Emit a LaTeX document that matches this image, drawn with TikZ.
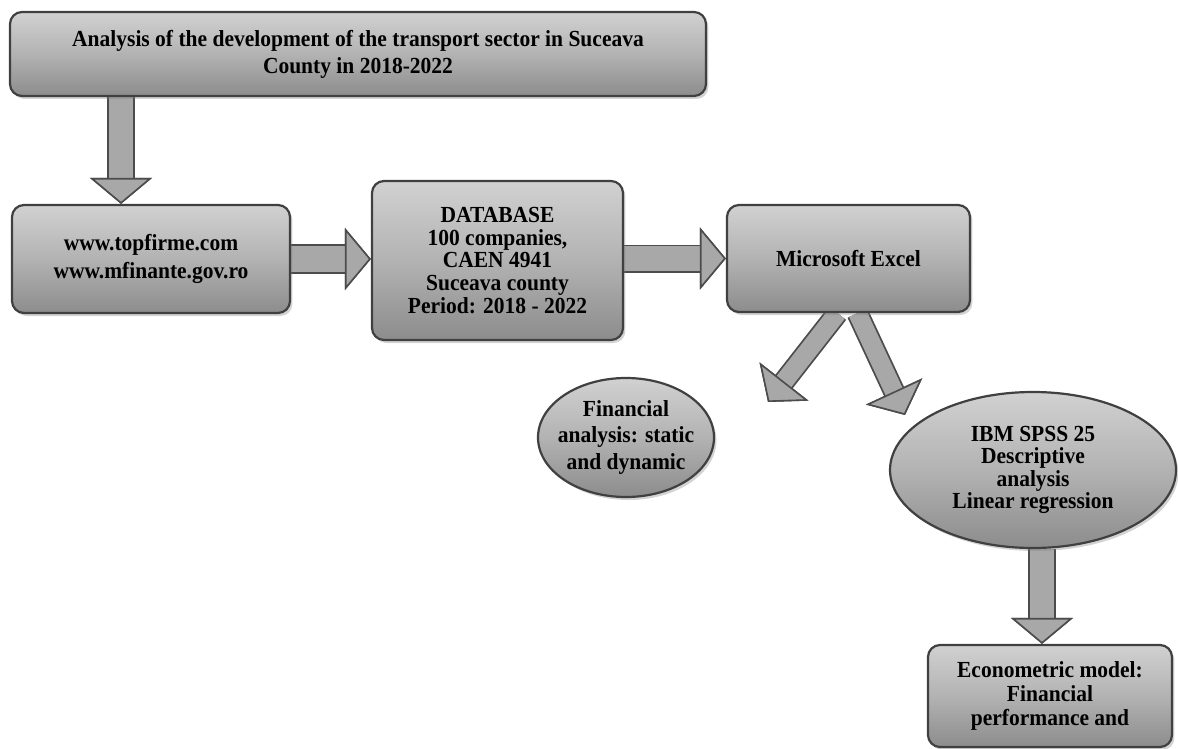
\documentclass[tikz,border=0pt]{standalone}
\usepackage{fontspec}
\setmainfont{Liberation Serif}[FakeStretch=0.935]
\usetikzlibrary{arrows.meta,shapes.geometric,shadows,backgrounds}

\begin{document}
\begin{tikzpicture}[x=0.5pt, y=-0.5pt,
    box/.style={draw=black!75, line width=1.1pt, rounded corners=6pt,
        top color=black!18, bottom color=black!45, middle color=black!30,
        drop shadow={shadow xshift=1.2pt, shadow yshift=-1.5pt, opacity=0.35},
        align=center, inner sep=2pt, font=\bfseries\fontsize{11.5}{13.5}\selectfont},
    oval/.style={box, ellipse, sharp corners, inner xsep=-6pt, inner ysep=0pt},
    blockarrow/.style args={#1/#2}{draw=black!70, line width=#1,
        -{Triangle[width=31pt, length=13pt, line width=0.8pt, fill=black!34, color=black!70]},
        postaction={draw=black!34, line width=#2}}]
    \useasboundingbox (0,0) rectangle (1178,749);

    \node[box, minimum width=348pt, minimum height=42pt] (title) at (358,54)
        {Analysis of the development of the transport sector in Suceava\\County in 2018-2022};
    \node[box, minimum width=139pt, minimum height=54pt,
          font=\bfseries\fontsize{11.5}{14}\selectfont] (www) at (151,259)
        {www.topfirme.com\\www.mfinante.gov.ro};
    \node[box, minimum width=125.5pt, minimum height=79.5pt,
          font=\bfseries\fontsize{11.5}{11.3}\selectfont] (db) at (497.5,260.5)
        {DATABASE\\100 companies,\\CAEN 4941\\Suceava county\\Period: 2018 - 2022};
    \node[box, minimum width=121.5pt, minimum height=53.5pt] (excel) at (848.5,258.5)
        {Microsoft Excel};
    \node[oval, minimum width=88pt, minimum height=59.5pt,
          font=\bfseries\fontsize{11.5}{13.3}\selectfont] (fin) at (626,437.5)
        {Financial\\analysis: static\\and dynamic};
    \node[oval, minimum width=143pt, minimum height=78pt,
          font=\bfseries\fontsize{11.5}{11.2}\selectfont] (ibm) at (1033,470)
        {IBM SPSS 25\\Descriptive\\analysis\\Linear regression};
    \node[box, minimum width=122pt, minimum height=51pt,
          font=\bfseries\fontsize{11.5}{11.8}\selectfont] (econ) at (1050,696)
        {Econometric model:\\Financial\\performance and};

    % arrow ends in the free space above the ovals
    \coordinate (fintip) at (768,402);
    \coordinate (ibmtip) at (905,415);

    \begin{scope}[on background layer]
        \draw[blockarrow=14pt/12.2pt] ([xshift=-15pt]www.north |- title.south) -- ([xshift=-15pt]www.north);
        \draw[blockarrow=15pt/13.2pt] (www.east) -- (www.east -| db.west);
        \draw[blockarrow=14pt/12.2pt] (db.east |- excel.west) -- (excel.west);
        \draw[blockarrow=11pt/9.2pt] ([xshift=-5.5pt]excel.south) -- (fintip);
        \draw[blockarrow=11pt/9.2pt] ([xshift=4.5pt]excel.south) -- (ibmtip);
        \draw[blockarrow=14pt/12.2pt] ([xshift=-4pt]econ.north |- ibm.south) -- ([xshift=-4pt]econ.north);
    \end{scope}
\end{tikzpicture}
\end{document}
